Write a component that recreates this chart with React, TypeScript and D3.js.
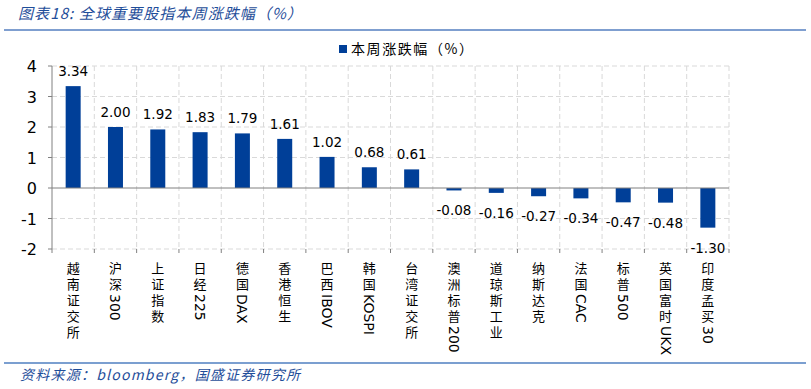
import React, { useEffect, useRef } from 'react';
import * as d3 from 'd3';

const categories = [
  '越南证交所', '沪深300', '上证指数', '日经225', '德国DAX', '香港恒生', '巴西IBOV', '韩国KOSPI',
  '台湾证交所', '澳洲标普200', '道琼斯工业', '纳斯达克', '法国CAC', '标普500', '英国富时UKX', '印度孟买30',
];
const values = [3.34, 2.0, 1.92, 1.83, 1.79, 1.61, 1.02, 0.68, 0.61, -0.08, -0.16, -0.27, -0.34, -0.47, -0.48, -1.3];
const yTicks = [-2, -1, 0, 1, 2, 3, 4];
const seriesName = '本周涨跌幅（%）';
const title = '图表18: 全球重要股指本周涨跌幅（%）';
const source = '资料来源：bloomberg，国盛证券研究所';

const W = 811;
const H = 389;
const BLUE = '#003f98';
const CJK = '"Noto Sans CJK SC", sans-serif';
const LAT = '"DejaVu Sans", Verdana, sans-serif';

const App: React.FC = () => {
  const svgRef = useRef<SVGSVGElement>(null);

  useEffect(() => {
    if (!svgRef.current) return;
    const svg = d3.select(svgRef.current);
    svg.selectAll('*').remove();

    const left = 52, right = 729, top = 66, bottom = 249;
    const x = d3.scaleBand<string>().domain(categories).range([left, right]);
    const y = d3.scaleLinear().domain([-2, 4]).range([bottom, top]);

    // title
    svg.append('text').attr('x', 18).attr('y', 19).attr('fill', '#1f4e9a')
      .attr('font-family', CJK).attr('font-style', 'italic').attr('font-size', 15)
      .attr('textLength', 284).attr('lengthAdjust', 'spacing').text(title);
    svg.append('line').attr('x1', 4).attr('x2', 806).attr('y1', 30).attr('y2', 30)
      .attr('stroke', '#7f9fd0').attr('stroke-width', 2);

    // grid
    const g = svg.append('g');
    g.selectAll('line.h').data(yTicks.filter(t => t !== 0)).join('line')
      .attr('x1', left).attr('x2', right).attr('y1', d => y(d)).attr('y2', d => y(d))
      .attr('stroke', '#d9d9d9').attr('stroke-dasharray', '5,3');
    const bounds = categories.map(c => x(c)!).slice(1).concat([right]);
    g.selectAll('line.v').data(bounds).join('line')
      .attr('x1', d => d).attr('x2', d => d).attr('y1', top).attr('y2', bottom)
      .attr('stroke', '#d9d9d9').attr('stroke-dasharray', '5,3');

    // bars
    const bw = 15;
    svg.append('g').selectAll('rect').data(values).join('rect')
      .attr('x', (d, i) => x(categories[i])! + x.bandwidth() / 2 - bw / 2)
      .attr('y', d => y(Math.max(0, d)))
      .attr('width', bw)
      .attr('height', d => Math.abs(y(d) - y(0)))
      .attr('fill', BLUE);

    // value labels
    svg.append('g').selectAll('text').data(values).join('text')
      .attr('x', (d, i) => x(categories[i])! + x.bandwidth() / 2)
      .attr('y', d => d >= 0 ? y(d) - 10 : y(d) + 25)
      .attr('text-anchor', 'middle').attr('font-family', LAT).attr('font-size', 13.5)
      .attr('fill', '#000').text(d => d.toFixed(2));

    // axes
    svg.append('line').attr('x1', left).attr('x2', right).attr('y1', y(0)).attr('y2', y(0))
      .attr('stroke', '#808080').attr('stroke-width', 1);
    svg.append('line').attr('x1', left).attr('x2', left).attr('y1', top).attr('y2', bottom)
      .attr('stroke', '#808080').attr('stroke-width', 1);
    svg.append('g').selectAll('line').data(yTicks).join('line')
      .attr('x1', left - 4).attr('x2', left).attr('y1', d => y(d)).attr('y2', d => y(d))
      .attr('stroke', '#808080');
    svg.append('g').selectAll('line').data(bounds.concat([left])).join('line')
      .attr('x1', d => d).attr('x2', d => d).attr('y1', bottom).attr('y2', bottom + 4)
      .attr('stroke', '#808080');
    svg.append('g').selectAll('text').data(yTicks).join('text')
      .attr('x', 37).attr('y', d => y(d) + 6).attr('text-anchor', 'end')
      .attr('font-family', LAT).attr('font-size', 16).attr('fill', '#000').text(d => String(d));

    // category labels, vertical writing
    categories.forEach(c => {
      const cx = x(c)! + x.bandwidth() / 2;
      const t = svg.append('text')
        .attr('x', cx).attr('y', 262)
        .style('writing-mode', 'vertical-rl')
        .style('text-orientation', 'mixed')
        .attr('fill', '#000');
      const parts = c.match(/[A-Za-z0-9]+|[^A-Za-z0-9]+/g) || [];
      parts.forEach(p => {
        if (/^[A-Za-z0-9]+$/.test(p)) {
          t.append('tspan').attr('font-family', LAT).attr('font-size', 14).text(p);
        } else {
          t.append('tspan').attr('font-family', CJK).attr('font-size', 13)
            .style('letter-spacing', '3px').text(p);
        }
      });
    });

    // legend
    svg.append('rect').attr('x', 339).attr('y', 45).attr('width', 8).attr('height', 8).attr('fill', BLUE);
    svg.append('text').attr('x', 351).attr('y', 54).attr('font-family', CJK).attr('font-size', 14)
      .attr('fill', '#000').attr('textLength', 122).attr('lengthAdjust', 'spacing').text(seriesName);

    // source
    svg.append('line').attr('x1', 4).attr('x2', 806).attr('y1', 363).attr('y2', 363)
      .attr('stroke', '#4f7fc0').attr('stroke-width', 1.5);
    svg.append('text').attr('x', 20).attr('y', 380).attr('fill', '#1f4e9a')
      .attr('font-family', CJK).attr('font-style', 'italic').attr('font-size', 14)
      .attr('textLength', 280).attr('lengthAdjust', 'spacing').text(source);
  }, []);

  return <svg ref={svgRef} width={W} height={H} style={{ display: 'block', position: 'absolute', left: 0, top: 0, background: '#fff' }} />;
};

export default App;
